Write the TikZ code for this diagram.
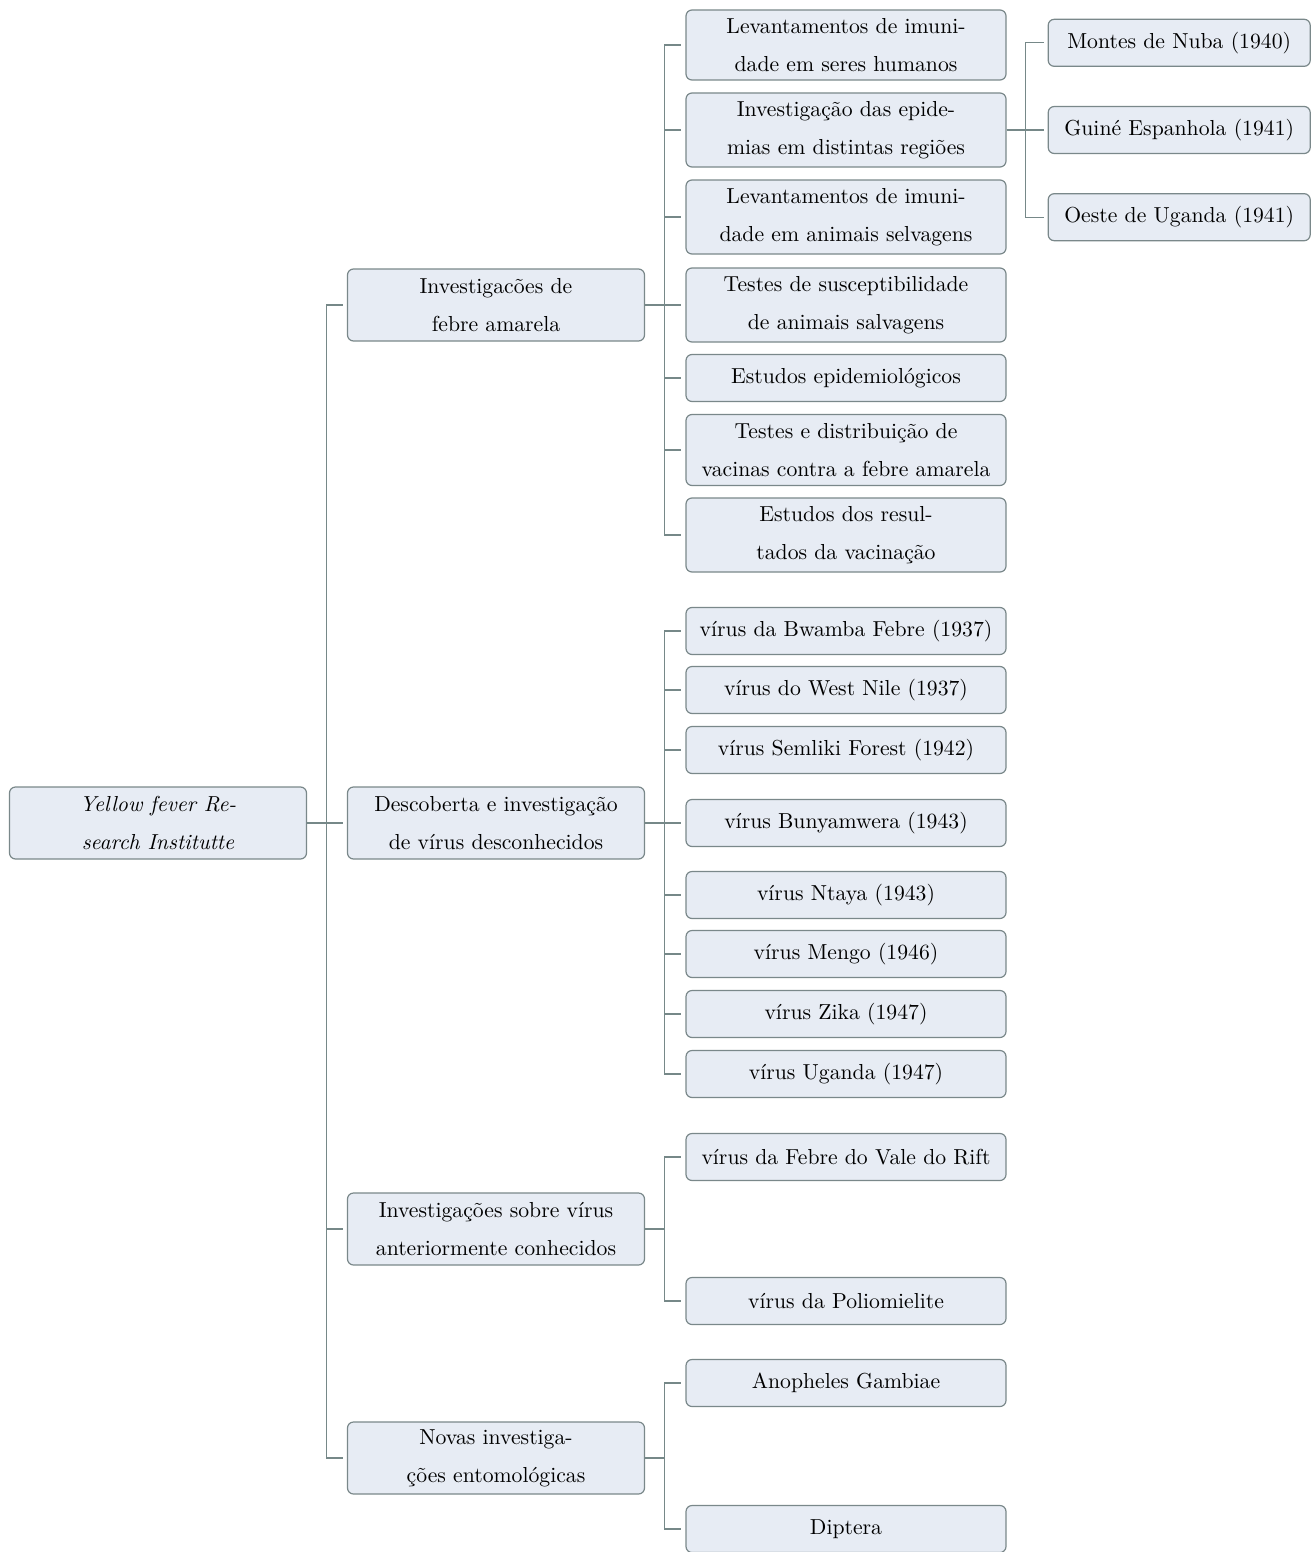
\documentclass[tikz,border=0pt]{standalone}
\usepackage{tikz}
\usetikzlibrary{positioning}
\definecolor{boxfill}{RGB}{231,236,244}
\definecolor{boxline}{RGB}{122,136,138}
\definecolor{linkline}{RGB}{118,136,136}

\begin{document}
\begin{tikzpicture}[x=0.5pt,y=-0.5pt,node distance=19.5pt,
	box node/.style={draw=boxline, fill=boxfill, rounded corners=3pt, line width=0.6pt, align=center, inner sep=2pt, font=\fontsize{10.85}{19}\selectfont},
	root node/.style={box node, minimum width=148.5pt, minimum height=36pt},
	topic node/.style={box node, minimum width=148.5pt, minimum height=36pt},
	item node/.style={box node, minimum width=160pt, minimum height=23.5pt},
	place node/.style={box node, minimum width=131pt, minimum height=23.5pt},
	link/.style={draw=linkline, line width=0.6pt, shorten >=2pt}]
	\useasboundingbox (0,0) rectangle (1316,1552);
	
	% Root and topics
	\node[root node] (root) at (158,823) {\itshape Yellow fever Re-\\\itshape search Institutte};
	\node[topic node] (t1) at (496,305) {Investigacões de\\febre amarela};
	\node[topic node] (t2) at (496,823) {Descoberta e investigação\\de vírus desconhecidos};
	\node[topic node] (t3) at (496,1229) {Investigações sobre vírus\\anteriormente conhecidos};
	\node[topic node] (t4) at (496,1458) {Novas investiga-\\ções entomológicas};
	
	% Yellow fever work
	\node[item node, minimum height=35pt] (a1) at (846,45) {Levantamentos de imuni-\\dade em seres humanos};
	\node[item node, minimum height=37pt] (a2) at (846,130) {Investigação das epide-\\mias em distintas regiões};
	\node[item node, minimum height=37pt] (a3) at (846,217) {Levantamentos de imuni-\\dade em animais selvagens};
	\node[item node, minimum height=37pt] (a4) at (846,305) {Testes de susceptibilidade\\de animais salvagens};
	\node[item node] (a5) at (846,378) {Estudos epidemiológicos};
	\node[item node, minimum height=35.5pt] (a6) at (846,450) {Testes e distribuição de\\vacinas contra a febre amarela};
	\node[item node, minimum height=37pt] (a7) at (846,535) {Estudos dos resul-\\tados da vacinação};
	
	% Epidemics
	\node[place node] (p2) [right=20.5pt of a2] {Guiné Espanhola (1941)};
	\node[place node] (p1) [above=of p2] {Montes de Nuba (1940)};
	\node[place node] (p3) [below=of p2] {Oeste de Uganda (1941)};
	
	% New viruses
	\node[item node] (b1) at (846,631) {vírus da Bwamba Febre (1937)};
	\node[item node] (b2) at (846,690) {vírus do West Nile (1937)};
	\node[item node] (b3) at (846,750) {vírus Semliki Forest (1942)};
	\node[item node] (b4) at (846,823) {vírus Bunyamwera (1943)};
	\node[item node] (b5) at (846,895) {vírus Ntaya (1943)};
	\node[item node] (b6) at (846,954) {vírus Mengo (1946)};
	\node[item node] (b7) at (846,1014) {vírus Zika (1947)};
	\node[item node] (b8) at (846,1074) {vírus Uganda (1947)};
	
	% Known viruses
	\node[item node] (c1) at (846,1157) {vírus da Febre do Vale do Rift};
	\node[item node] (c2) at (846,1301) {vírus da Poliomielite};
	
	% Insects
	\node[item node] (d1) at (846,1383) {Anopheles Gambiae};
	\node[item node] (d2) at (846,1529) {Diptera};
	
	% Connectors
	\foreach \t in {t1,t2,t3,t4}
	\draw[link] (root.east) -- ++(19,0) |- (\t.west);
	\foreach \a in {a1,a2,a3,a4,a5,a6,a7}
	\draw[link] (t1.east) -- ++(19,0) |- (\a.west);
	\foreach \p in {p1,p2,p3}
	\draw[link] (a2.east) -- ++(19,0) |- (\p.west);
	\foreach \b in {b1,b2,b3,b4,b5,b6,b7,b8}
	\draw[link] (t2.east) -- ++(19,0) |- (\b.west);
	\foreach \c in {c1,c2}
	\draw[link] (t3.east) -- ++(19,0) |- (\c.west);
	\foreach \d in {d1,d2}
	\draw[link] (t4.east) -- ++(19,0) |- (\d.west);
	
\end{tikzpicture}
\end{document}
